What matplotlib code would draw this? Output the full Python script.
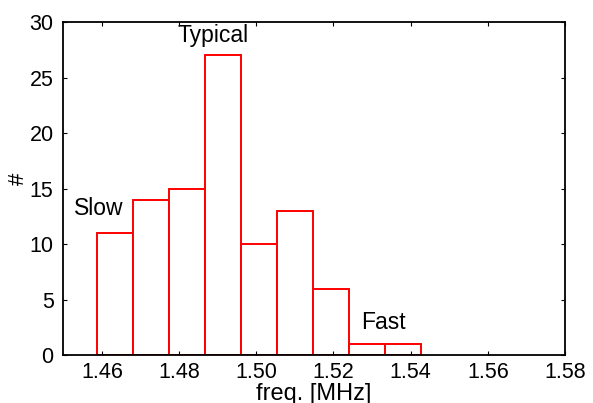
import matplotlib
matplotlib.use("Agg")
import matplotlib.pyplot as plt
import numpy as np

plt.rcParams["font.family"] = ["Liberation Sans", "DejaVu Sans"]

# histogram bins (left edges in MHz) and counts
bin_start = 1.4588
bin_width = 0.00933
counts = [11, 14, 15, 27, 10, 13, 6, 1, 1]
edges = bin_start + bin_width * np.arange(len(counts))

xticks = [1.46, 1.48, 1.50, 1.52, 1.54, 1.56, 1.58]
yticks = [0, 5, 10, 15, 20, 25, 30]

fig = plt.figure(figsize=(5.93, 4.03), dpi=100)
ax = fig.add_axes([0.1068, 0.1184, 0.846, 0.827])

ax.bar(edges, counts, width=bin_width, align="edge",
       facecolor="white", edgecolor="red", linewidth=1.4)

ax.set_xlim(1.45, 1.58)
ax.set_ylim(0, 30)
ax.set_xticks(xticks)
ax.set_xticklabels(["%.2f" % t for t in xticks])
ax.set_yticks(yticks)
ax.tick_params(direction="in", length=3, width=0.8, labelsize=15.5,
               top=True, right=True)
ax.tick_params(axis="y", pad=7)
ax.tick_params(axis="x", pad=5)
for s in ax.spines.values():
    s.set_linewidth(1.3)

ax.text(1.4889, 28.2, "Typical", fontsize=16.5, ha="center", va="baseline")
ax.text(1.4593, 12.6, "Slow", fontsize=16.5, ha="center", va="baseline")
ax.text(1.5330, 2.4, "Fast", fontsize=16.5, ha="center", va="baseline")

ax.set_xlabel("freq. [MHz]", fontsize=17)
ax.xaxis.label.set(va="top")
ax.xaxis.set_label_coords(0.5, -0.083)
ax.set_ylabel("#", fontsize=16)
ax.yaxis.label.set(va="center", ha="center")
ax.yaxis.set_label_coords(-0.09, 0.529)

fig.savefig("out.png", dpi=100)
